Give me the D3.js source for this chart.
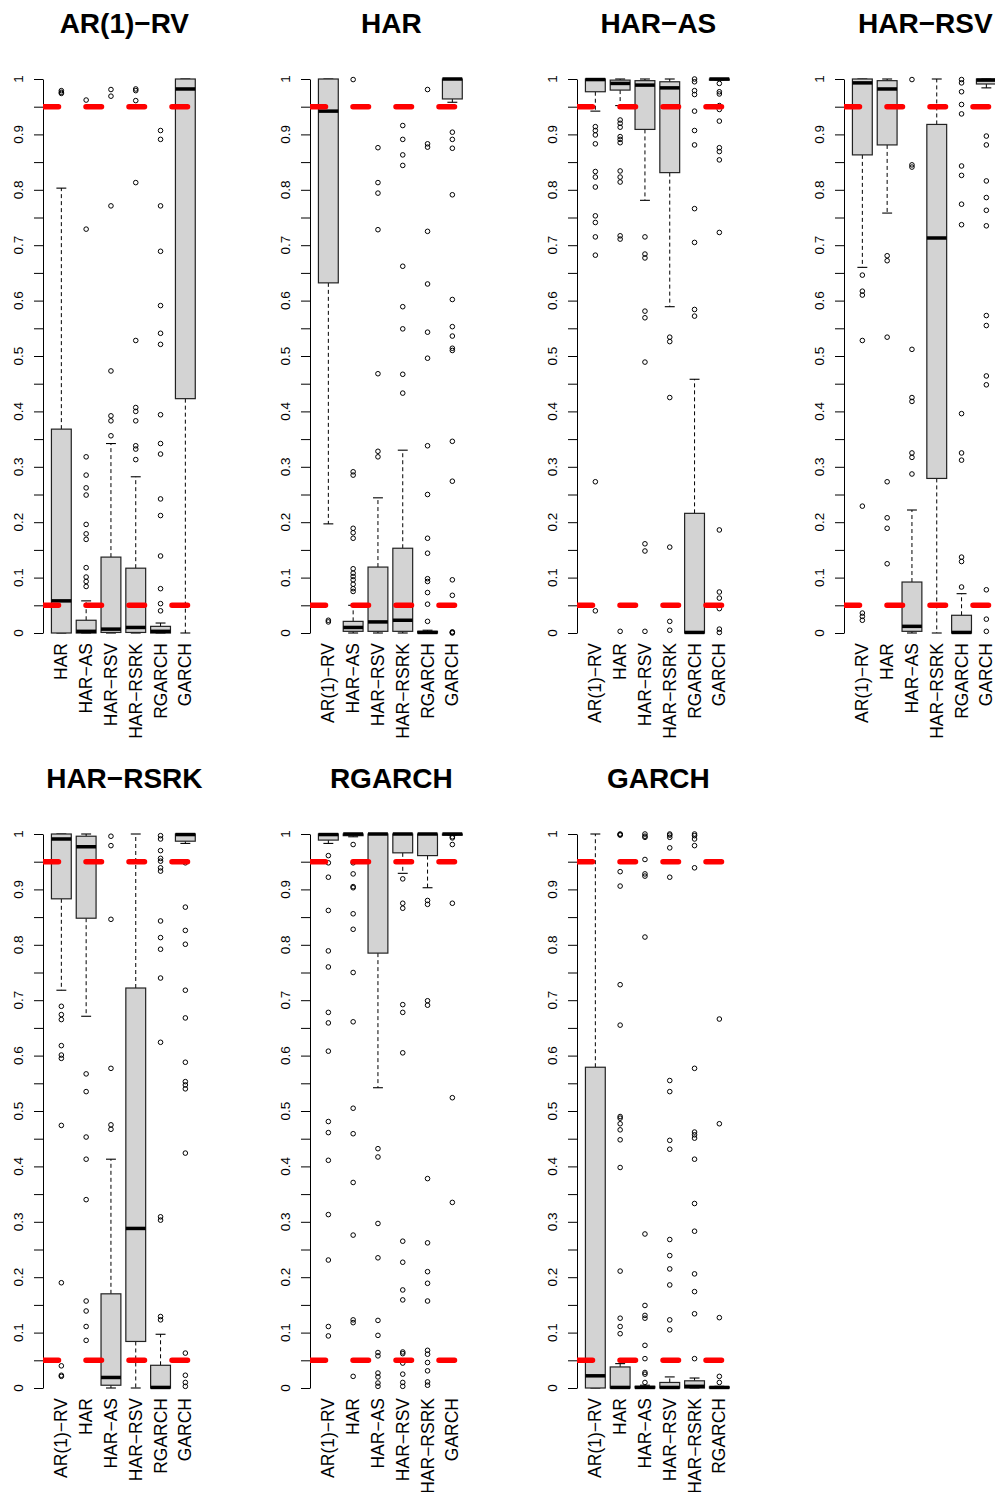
<!DOCTYPE html>
<html>
<head>
<meta charset="utf-8">
<script src="https://cdn.jsdelivr.net/npm/d3@7"></script>
<style>
body{margin:0;background:#fff;}
svg{display:block;font-family:"Liberation Sans",Arial,Helvetica,sans-serif;}
</style>
</head>
<body>
<svg id="chart" width="995" height="1492"></svg>
<script>
// model names, each panel compares the title model with the other six
var models = ["AR(1)-RV", "HAR", "HAR-AS", "HAR-RSV", "HAR-RSRK", "RGARCH", "GARCH"];
var refLevels = [0.05, 0.95];
var yTicks = d3.range(0, 21).map(function(i){ return i / 20; });
var yLabels = d3.range(0, 11).map(function(i){ return i / 10; });

// box stats per column: [lower whisker, Q1, median, Q3, upper whisker]
var statsAR1RV = [
	[0, 0, 0.058, 0.368, 0.803],
	[0, 0, 0.003, 0.023, 0.058],
	[0, 0.001, 0.007, 0.137, 0.342],
	[0, 0.001, 0.010, 0.117, 0.282],
	[0, 0, 0.003, 0.012, 0.018],
	[0, 0.423, 0.982, 1, 1]
];
var outAR1RV = [
	[0.979, 0.976, 0.974],
	[0.962, 0.729, 0.318, 0.285, 0.262, 0.249, 0.196, 0.179, 0.169, 0.118, 0.101, 0.093, 0.084],
	[0.981, 0.969, 0.771, 0.473, 0.392, 0.383, 0.356],
	[0.982, 0.979, 0.961, 0.813, 0.528, 0.407, 0.400, 0.383, 0.338, 0.332, 0.313],
	[0.907, 0.891, 0.771, 0.689, 0.591, 0.541, 0.521, 0.394, 0.342, 0.323, 0.242, 0.212, 0.139, 0.080, 0.053, 0.040],
	[]
];

var statsHAR = [
	[0.197, 0.632, 0.942, 1, 1],
	[0, 0.003, 0.010, 0.021, 0.050],
	[0, 0.003, 0.020, 0.119, 0.244],
	[0, 0.003, 0.023, 0.153, 0.330],
	[0, 0, 0.001, 0.003, 0.005],
	[0.958, 0.964, 1, 1, 1]
];
var outHAR = [
	[0.023, 0.020],
	[0.999, 0.291, 0.285, 0.189, 0.181, 0.171, 0.116, 0.108, 0.102, 0.096, 0.088, 0.080, 0.075],
	[0.876, 0.813, 0.794, 0.728, 0.468, 0.328, 0.318],
	[0.916, 0.891, 0.863, 0.844, 0.662, 0.589, 0.549, 0.467, 0.433],
	[0.981, 0.883, 0.877, 0.725, 0.630, 0.543, 0.496, 0.338, 0.250, 0.171, 0.144, 0.098, 0.093, 0.073, 0.052, 0.021],
	[0.904, 0.891, 0.875, 0.791, 0.602, 0.553, 0.536, 0.514, 0.510, 0.346, 0.274, 0.096, 0.068, 0.002, 0.001, 0]
];

var statsHARAS = [
	[0.942, 0.977, 0.999, 1, 1],
	[0.952, 0.980, 0.992, 0.998, 1],
	[0.781, 0.909, 0.989, 0.997, 1],
	[0.589, 0.831, 0.984, 0.995, 1],
	[0, 0, 0.001, 0.216, 0.458],
	[0.998, 0.998, 1, 1, 1]
];
var outHARAS = [
	[0.914, 0.907, 0.899, 0.883, 0.833, 0.823, 0.805, 0.753, 0.741, 0.715, 0.682, 0.273, 0.040],
	[0.926, 0.920, 0.913, 0.896, 0.891, 0.885, 0.834, 0.823, 0.814, 0.717, 0.711, 0.003],
	[0.715, 0.684, 0.677, 0.581, 0.569, 0.489, 0.161, 0.148, 0.003],
	[0.534, 0.526, 0.425, 0.155, 0.021, 0.005],
	[1.0, 0.995, 0.979, 0.972, 0.942, 0.907, 0.881, 0.766, 0.705, 0.584, 0.572],
	[0.992, 0.977, 0.973, 0.952, 0.945, 0.924, 0.876, 0.869, 0.854, 0.723, 0.186, 0.074, 0.063, 0.044, 0.007, 0.001]
];

var statsHARRSV = [
	[0.660, 0.863, 0.993, 1, 1],
	[0.758, 0.881, 0.982, 0.997, 1],
	[0, 0.003, 0.012, 0.092, 0.222],
	[0, 0.279, 0.713, 0.918, 1],
	[0, 0, 0.001, 0.032, 0.071],
	[0.984, 0.991, 0.998, 1, 1]
];
var outHARRSV = [
	[0.646, 0.617, 0.610, 0.528, 0.229, 0.036, 0.030, 0.023],
	[0.681, 0.672, 0.534, 0.273, 0.208, 0.189, 0.125],
	[0.999, 0.845, 0.841, 0.512, 0.425, 0.418, 0.325, 0.317, 0.287],
	[],
	[0.999, 0.993, 0.977, 0.954, 0.937, 0.843, 0.826, 0.774, 0.737, 0.396, 0.325, 0.312, 0.137, 0.129, 0.083],
	[0.897, 0.881, 0.816, 0.786, 0.763, 0.735, 0.573, 0.555, 0.464, 0.448, 0.078, 0.025, 0.003]
];

var statsHARRSRK = [
	[0.718, 0.883, 0.991, 1, 1],
	[0.671, 0.848, 0.977, 0.996, 1],
	[0, 0.005, 0.019, 0.170, 0.413],
	[0, 0.084, 0.288, 0.722, 1],
	[0, 0, 0.001, 0.041, 0.097],
	[0.983, 0.987, 0.999, 1, 1]
];
var outHARRSRK = [
	[0.689, 0.674, 0.665, 0.618, 0.601, 0.595, 0.474, 0.190, 0.040, 0.023, 0.021],
	[0.567, 0.535, 0.453, 0.413, 0.340, 0.157, 0.139, 0.111, 0.086],
	[0.996, 0.979, 0.846, 0.577, 0.475, 0.467],
	[],
	[0.997, 0.991, 0.970, 0.956, 0.951, 0.939, 0.933, 0.843, 0.813, 0.792, 0.740, 0.624, 0.309, 0.303, 0.129, 0.123],
	[0.948, 0.868, 0.826, 0.801, 0.718, 0.668, 0.588, 0.553, 0.547, 0.540, 0.424, 0.063, 0.023, 0.010, 0.003]
];

var statsRGARCH = [
	[0.983, 0.989, 0.999, 1, 1],
	[0.995, 0.997, 1, 1, 1],
	[0.542, 0.785, 1, 1, 1],
	[0.929, 0.966, 1, 1, 1],
	[0.903, 0.961, 1, 1, 1],
	[0.998, 0.998, 1, 1, 1]
];
var outRGARCH = [
	[0.961, 0.948, 0.922, 0.862, 0.789, 0.760, 0.678, 0.659, 0.608, 0.481, 0.461, 0.411, 0.313, 0.231, 0.111, 0.094],
	[0.981, 0.948, 0.928, 0.905, 0.903, 0.856, 0.828, 0.750, 0.661, 0.505, 0.459, 0.371, 0.276, 0.123, 0.118, 0.021],
	[0.432, 0.417, 0.297, 0.235, 0.122, 0.095, 0.064, 0.058, 0.027, 0.020, 0.009, 0.003],
	[0.919, 0.875, 0.866, 0.692, 0.678, 0.605, 0.265, 0.227, 0.177, 0.159, 0.065, 0.062, 0.045, 0.025, 0.010, 0.003],
	[0.880, 0.873, 0.699, 0.691, 0.378, 0.262, 0.210, 0.189, 0.157, 0.068, 0.061, 0.046, 0.031, 0.011, 0.005],
	[0.995, 0.993, 0.981, 0.875, 0.524, 0.335]
];

var statsGARCH = [
	[0, 0, 0.022, 0.579, 1],
	[0, 0, 0.001, 0.038, 0.044],
	[0, 0, 0.001, 0.003, 0.005],
	[0, 0, 0.001, 0.010, 0.020],
	[0, 0, 0.003, 0.013, 0.018],
	[0, 0, 0.001, 0.002, 0.003]
];
var outGARCH = [
	[],
	[1.0, 0.999, 0.998, 0.932, 0.906, 0.728, 0.655, 0.490, 0.487, 0.477, 0.466, 0.448, 0.398, 0.211, 0.126, 0.111, 0.098],
	[1.0, 0.996, 0.994, 0.954, 0.928, 0.924, 0.814, 0.278, 0.149, 0.131, 0.126, 0.077, 0.053, 0.028, 0.025, 0.010],
	[1.0, 0.998, 0.994, 0.975, 0.922, 0.555, 0.535, 0.447, 0.431, 0.268, 0.239, 0.215, 0.186, 0.123, 0.105],
	[1.0, 0.997, 0.991, 0.979, 0.939, 0.577, 0.462, 0.457, 0.451, 0.413, 0.333, 0.283, 0.206, 0.174, 0.134, 0.053],
	[0.666, 0.477, 0.127, 0.021, 0.010]
];

var panels = [
	{title: "AR(1)-RV", stats: statsAR1RV, outs: outAR1RV},
	{title: "HAR", stats: statsHAR, outs: outHAR},
	{title: "HAR-AS", stats: statsHARAS, outs: outHARAS},
	{title: "HAR-RSV", stats: statsHARRSV, outs: outHARRSV},
	{title: "HAR-RSRK", stats: statsHARRSRK, outs: outHARRSRK},
	{title: "RGARCH", stats: statsRGARCH, outs: outRGARCH},
	{title: "GARCH", stats: statsGARCH, outs: outGARCH}
];

function dash(s){ return s.replace(/-/g, "\u2212"); }

var svg = d3.select("#chart");
svg.append("rect").attr("width", 995).attr("height", 1492).attr("fill", "#fff");
var defs = svg.append("defs");

function drawPanel(p, idx){
	var col = idx % 4, row = Math.floor(idx / 4);
	var left = 43 + 267 * col,
		plotW = 160.7,
		top = 79 + 755 * row,
		bottom = 633 + 755 * row;

	var cols = models.filter(function(m){ return m !== p.title; });

	var x = d3.scaleLinear().domain([0.26, 6.74]).range([left, left + plotW]);
	var y = d3.scaleLinear().domain([0, 1]).range([bottom, top]);
	var hw = x(1.4) - x(1);

	// plot region clip for the reference lines
	var clipId = "clip" + idx;
	defs.append("clipPath").attr("id", clipId)
		.append("rect")
		.attr("x", left).attr("y", top - 30)
		.attr("width", plotW + 4).attr("height", bottom - top + 60);

	var g = svg.append("g");

	// title
	g.append("text")
		.attr("x", left + plotW / 2 + 1)
		.attr("y", top - 46)
		.attr("text-anchor", "middle")
		.style("font-size", "28px")
		.style("font-weight", "bold")
		.text(dash(p.title));

	// y axis
	var ax = g.append("g")
		.attr("transform", "translate(" + left + ",0)")
		.call(d3.axisLeft(y).tickValues(yTicks).tickSize(9).tickSizeOuter(0).tickFormat(""));
	ax.selectAll("path, line").attr("stroke", "#000").attr("stroke-width", 1);

	g.selectAll(".ylab")
		.data(yLabels)
		.enter().append("text")
		.attr("class", "ylab")
		.attr("transform", function(d){ return "translate(" + (left - 25) + "," + y(d) + ") rotate(-90)"; })
		.attr("text-anchor", "middle")
		.attr("dy", "0.35em")
		.style("font-size", "13.5px")
		.text(function(d){ return d3.format("~g")(d); });

	// x labels
	g.selectAll(".xlab")
		.data(cols)
		.enter().append("text")
		.attr("class", "xlab")
		.attr("transform", function(d, i){ return "translate(" + x(i + 1) + "," + (bottom + 10) + ") rotate(-90)"; })
		.attr("text-anchor", "end")
		.attr("dy", "0.35em")
		.style("font-size", "17.5px")
		.text(function(d){ return dash(d); });

	// boxes
	var box = g.selectAll(".box")
		.data(p.stats)
		.enter().append("g")
		.attr("class", "box");

	box.append("line")
		.attr("x1", function(d, i){ return x(i + 1); })
		.attr("x2", function(d, i){ return x(i + 1); })
		.attr("y1", function(d){ return y(d[3]); })
		.attr("y2", function(d){ return y(d[4]); })
		.attr("stroke", "#000").attr("stroke-dasharray", "4,3");
	box.append("line")
		.attr("x1", function(d, i){ return x(i + 1); })
		.attr("x2", function(d, i){ return x(i + 1); })
		.attr("y1", function(d){ return y(d[1]); })
		.attr("y2", function(d){ return y(d[0]); })
		.attr("stroke", "#000").attr("stroke-dasharray", "4,3");

	[0, 4].forEach(function(k){
		box.append("line")
			.attr("x1", function(d, i){ return x(i + 1) - hw / 2; })
			.attr("x2", function(d, i){ return x(i + 1) + hw / 2; })
			.attr("y1", function(d){ return y(d[k]); })
			.attr("y2", function(d){ return y(d[k]); })
			.attr("stroke", "#000").attr("stroke-width", 1.1);
	});

	box.append("rect")
		.attr("x", function(d, i){ return x(i + 1) - hw; })
		.attr("width", 2 * hw)
		.attr("y", function(d){ return y(d[3]); })
		.attr("height", function(d){ return Math.max(0.5, y(d[1]) - y(d[3])); })
		.attr("fill", "#d3d3d3")
		.attr("stroke", "#222")
		.attr("stroke-width", 1.2);

	box.append("line")
		.attr("x1", function(d, i){ return x(i + 1) - hw; })
		.attr("x2", function(d, i){ return x(i + 1) + hw; })
		.attr("y1", function(d){ return y(d[2]); })
		.attr("y2", function(d){ return y(d[2]); })
		.attr("stroke", "#000").attr("stroke-width", 3.5);

	// outliers
	p.outs.forEach(function(vals, i){
		g.selectAll(null)
			.data(vals)
			.enter().append("circle")
			.attr("cx", x(i + 1))
			.attr("cy", function(d){ return y(d); })
			.attr("r", 2.3)
			.attr("fill", "none")
			.attr("stroke", "#000")
			.attr("stroke-width", 1);
	});

	// reference levels
	g.append("g")
		.attr("clip-path", "url(#" + clipId + ")")
		.selectAll(".ref")
		.data(refLevels)
		.enter().append("line")
		.attr("class", "ref")
		.attr("x1", left)
		.attr("x2", left + plotW)
		.attr("y1", function(d){ return y(d); })
		.attr("y2", function(d){ return y(d); })
		.attr("stroke", "#ff0000")
		.attr("stroke-width", 5.5)
		.attr("stroke-linecap", "round")
		.attr("stroke-dasharray", "15.5,27.5");
}

panels.forEach(drawPanel);
</script>
</body>
</html>
